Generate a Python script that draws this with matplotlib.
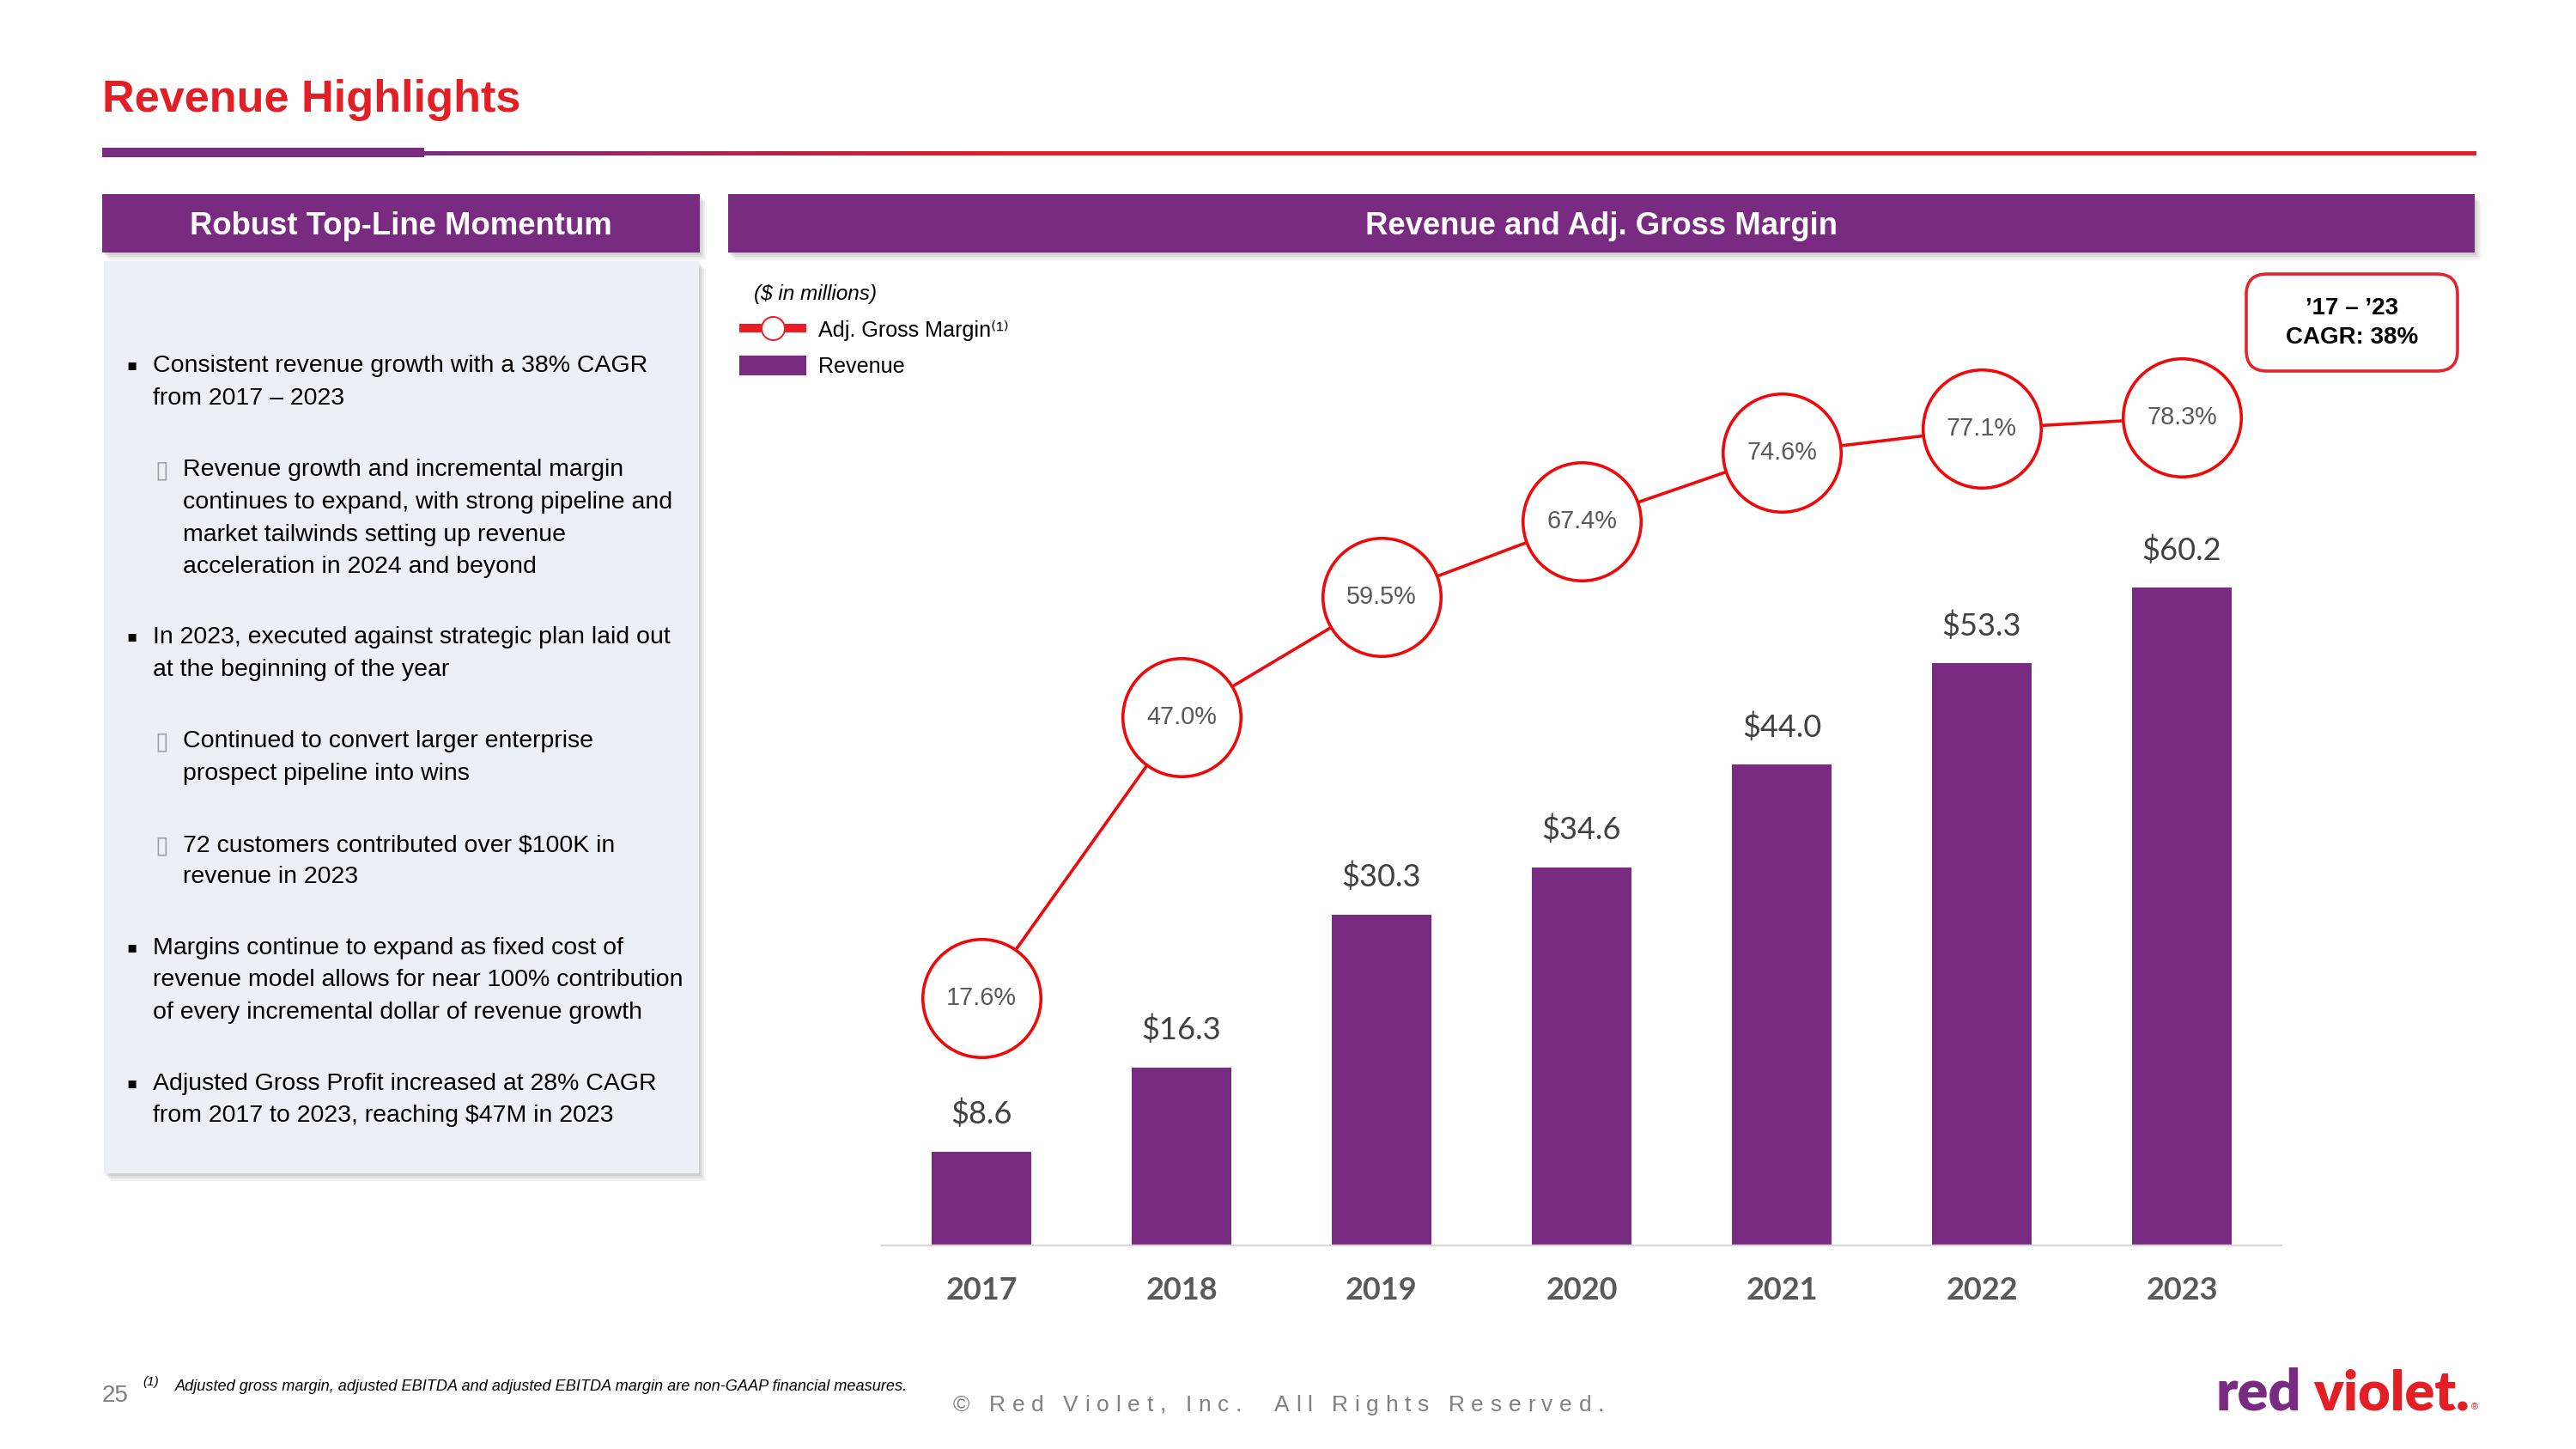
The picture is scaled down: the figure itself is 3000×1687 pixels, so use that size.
import matplotlib
matplotlib.use("Agg")
import matplotlib.pyplot as plt
from matplotlib.patches import Rectangle, FancyBboxPatch, Patch
from matplotlib.lines import Line2D
from matplotlib.colors import LinearSegmentedColormap
import numpy as np

plt.rcParams['font.family'] = ['Liberation Sans', 'DejaVu Sans']

# ---------------- data ----------------
years = ['2017', '2018', '2019', '2020', '2021', '2022', '2023']
revenue = [8.6, 16.3, 30.3, 34.6, 44.0, 53.3, 60.2]          # $ millions
gross_margin = [17.6, 47.0, 59.5, 67.4, 74.6, 77.1, 78.3]    # Adj. gross margin %
revenue_labels = ['$8.6', '$16.3', '$30.3', '$34.6', '$44.0', '$53.3', '$60.2']
margin_labels = ['17.6%', '47.0%', '59.5%', '67.4%', '74.6%', '77.1%', '78.3%']

title = 'Revenue Highlights'
left_header = 'Robust Top-Line Momentum'
right_header = 'Revenue and Adj. Gross Margin'
cagr_lines = ['\u201917 \u2013 \u201923', 'CAGR: 38%']
bullet_blocks = [
    ('main', ['Consistent revenue growth with a 38% CAGR', 'from 2017 \u2013 2023']),
    ('sub', ['Revenue growth and incremental margin',
             'continues to expand, with strong pipeline and',
             'market tailwinds setting up revenue',
             'acceleration in 2024 and beyond']),
    ('main', ['In 2023, executed against strategic plan laid out',
              'at the beginning of the year']),
    ('sub', ['Continued to convert larger enterprise', 'prospect pipeline into wins']),
    ('sub', ['72 customers contributed over $100K in', 'revenue in 2023']),
    ('main', ['Margins continue to expand as fixed cost of',
              'revenue model allows for near 100% contribution',
              'of every incremental dollar of revenue growth']),
    ('main', ['Adjusted Gross Profit increased at 28% CAGR',
              'from 2017 to 2023, reaching $47M in 2023']),
]
footnote = 'Adjusted gross margin, adjusted EBITDA and adjusted EBITDA margin are non-GAAP financial measures.'
copyright_text = '\u00a9 Red Violet, Inc.  All Rights Reserved.'

# ---------------- styles ----------------
PURPLE = '#782B80'
RED = '#E31E24'
CIRCLE_RED = '#EE0A0A'
PANEL = '#EBF0F7'
W, H = 3000, 1687

fig = plt.figure(figsize=(30, 16.87), dpi=100)
fig.patch.set_facecolor('white')

# background / decoration layer in pixel coordinates
bg = fig.add_axes([0, 0, 1, 1], zorder=0)
bg.axis('off')
bg.set_xlim(0, W)
bg.set_ylim(H, 0)

# title
bg.text(119, 130, title, color=RED, fontsize=37.6, fontweight='bold', va='baseline', ha='left')

# divider
bg.add_patch(Rectangle((119, 172), 375, 11, fc=PURPLE, ec='none'))
cmap = LinearSegmentedColormap.from_list('g', [(0, PURPLE), (0.28, RED), (1, RED)])
bg.imshow(np.linspace(0, 1, 600).reshape(1, -1), cmap=cmap, aspect='auto',
          extent=(494, 2884, 180.5, 175.5), interpolation='bilinear', zorder=1)


def shadow_box(x0, y0, x1, y1, color, z=1):
    for dx, dy, a in [(8, 9, 0.06), (6, 7, 0.08), (4, 5, 0.10), (2, 3, 0.12)]:
        bg.add_patch(Rectangle((x0 + dx, y0 + dy), x1 - x0, y1 - y0, fc='#6F6F6F',
                               ec='none', alpha=a, zorder=z))
    bg.add_patch(Rectangle((x0, y0), x1 - x0, y1 - y0, fc=color, ec='none', zorder=z + 0.5))


# headers
shadow_box(119, 226, 815, 294, PURPLE)
shadow_box(848, 226, 2882, 294, PURPLE)
bg.text(467, 263, left_header, color='white', fontsize=26.3, fontweight='bold',
        ha='center', va='center', zorder=3)
bg.text(1865, 263, right_header, color='white', fontsize=26.3, fontweight='bold',
        ha='center', va='center', zorder=3)

# left panel
shadow_box(121, 304, 814, 1366, PANEL)
block_y = [426, 547.5, 742, 863, 984, 1104, 1262]
step = 37.5
for (kind, lines), y0 in zip(bullet_blocks, block_y):
    if kind == 'main':
        bg.text(147, y0 - 1, '\u25aa', fontsize=13, va='center', ha='left', color='black',
                family=['DejaVu Sans'], zorder=3)
        tx = 178
    else:
        bg.text(180, y0, '\u25af', fontsize=20.5, va='center', ha='left', color='#9E9E9E',
                family=['DejaVu Sans'], zorder=3)
        tx = 213
    for k, line in enumerate(lines):
        bg.text(tx, y0 + k * step, line, fontsize=20.5, va='center', ha='left',
                color='black', zorder=3)

# ($ in millions)
bg.text(878, 342, '($ in millions)', fontsize=17.6, style='italic', va='center', ha='left')

# CAGR box
bg.add_patch(FancyBboxPatch((2616, 319), 246, 113,
                            boxstyle='round,pad=0,rounding_size=24',
                            fc='white', ec='#E0252D', lw=2.6, zorder=2))
bg.text(2739, 359, cagr_lines[0], fontsize=20, fontweight='bold', ha='center', va='center', zorder=3)
bg.text(2739, 393, cagr_lines[1], fontsize=20, fontweight='bold', ha='center', va='center', zorder=3)

# footer
bg.text(119, 1632, '25', fontsize=20, color='#7F7F7F', ha='left', va='baseline')
bg.text(166, 1613, '(1)', fontsize=11, style='italic', color='black', ha='left', va='baseline')
bg.text(204, 1619, footnote, fontsize=13.1, style='italic', color='black', ha='left', va='baseline')

# letter-spaced copyright line
renderer = fig.canvas.get_renderer()
cp_size = 19
cp_kw = dict(fontsize=cp_size, color='#808080', ha='left', va='baseline')
glyphs = []
natural = 0.0
for ch in copyright_text:
    if ch == ' ':
        w = cp_size * 100 / 72 * 0.278
        glyphs.append((ch, None, w))
    else:
        t = bg.text(0, 1643, ch, **cp_kw)
        w = t.get_window_extent(renderer=renderer).width
        glyphs.append((ch, t, w))
    natural += w
cp_x0, cp_x1 = 1110, 1868
tracking = (cp_x1 - cp_x0 - natural) / (len(glyphs) - 1)
cx = cp_x0
for ch, t, w in glyphs:
    if t is not None:
        t.set_x(cx)
    cx += w + tracking

# logo
bg.text(2581, 1641, 'red', fontsize=48, fontweight='heavy', color=PURPLE, family=['Lato'],
        ha='left', va='baseline')
bg.text(2694, 1641, 'violet.', fontsize=46.5, fontweight='heavy', color=RED, family=['Lato'],
        ha='left', va='baseline')
bg.text(2878, 1641, '\u00ae', fontsize=8, color=RED, ha='left', va='baseline')

# ---------------- chart ----------------
base_px = 1450
top_px = 300
px_per_musd = 12.72
ax = fig.add_axes([1026.5 / W, (H - base_px) / H, 1631 / W, (base_px - top_px) / H], zorder=2)
ax.patch.set_alpha(0)
x = np.arange(len(years))
bars = ax.bar(x, revenue, width=0.5, color=PURPLE, zorder=2, label='Revenue')
ax.set_xlim(-0.5, 6.5)
ax.set_ylim(0, (base_px - top_px) / px_per_musd)
ax.bar_label(bars, labels=revenue_labels, padding=19, fontsize=26, color='#404040',
             family=['Lato', 'DejaVu Sans'])
for s in ['top', 'left', 'right']:
    ax.spines[s].set_visible(False)
ax.spines['bottom'].set_color('#D9D9D9')
ax.spines['bottom'].set_linewidth(1.6)
ax.set_yticks([])
ax.set_xticks(x)
ax.set_xticklabels(years, fontsize=26, fontweight='bold', color='#595959', family=['Lato'])
ax.tick_params(axis='x', length=0, pad=26)

ax2 = ax.twinx()
ax2.set_ylim(-8.26, 95.0)
ax2.plot(x, gross_margin, color=CIRCLE_RED, lw=2.6, zorder=3)
ax2.scatter(x, gross_margin, s=99 ** 2, facecolor='white', edgecolor=CIRCLE_RED,
            linewidths=2.6, zorder=4)
for xi, m, lab in zip(x, gross_margin, margin_labels):
    ax2.text(xi, m, lab, fontsize=20.8, color='#595959', ha='center', va='center', zorder=5)
for s in ax2.spines.values():
    s.set_visible(False)
ax2.set_yticks([])

handles = [Line2D([], [], color='#ED1C24', lw=7.2, marker='o', ms=19.5, mfc='white',
                  mec='#ED1C24', mew=1.4, solid_capstyle='butt'),
           Patch(fc=PURPLE, ec='none')]
leg = fig.legend(handles, ['Adj. Gross Margin\u207d\u00b9\u207e', 'Revenue'],
                 loc='upper left', bbox_to_anchor=(861 / W, 1 - 372 / H),
                 frameon=False, fontsize=18.1, handlelength=3.1, handleheight=1.05,
                 handletextpad=0.55, labelspacing=0.66, borderpad=0, borderaxespad=0)

fig.savefig('out.png', dpi=100, facecolor='white')
